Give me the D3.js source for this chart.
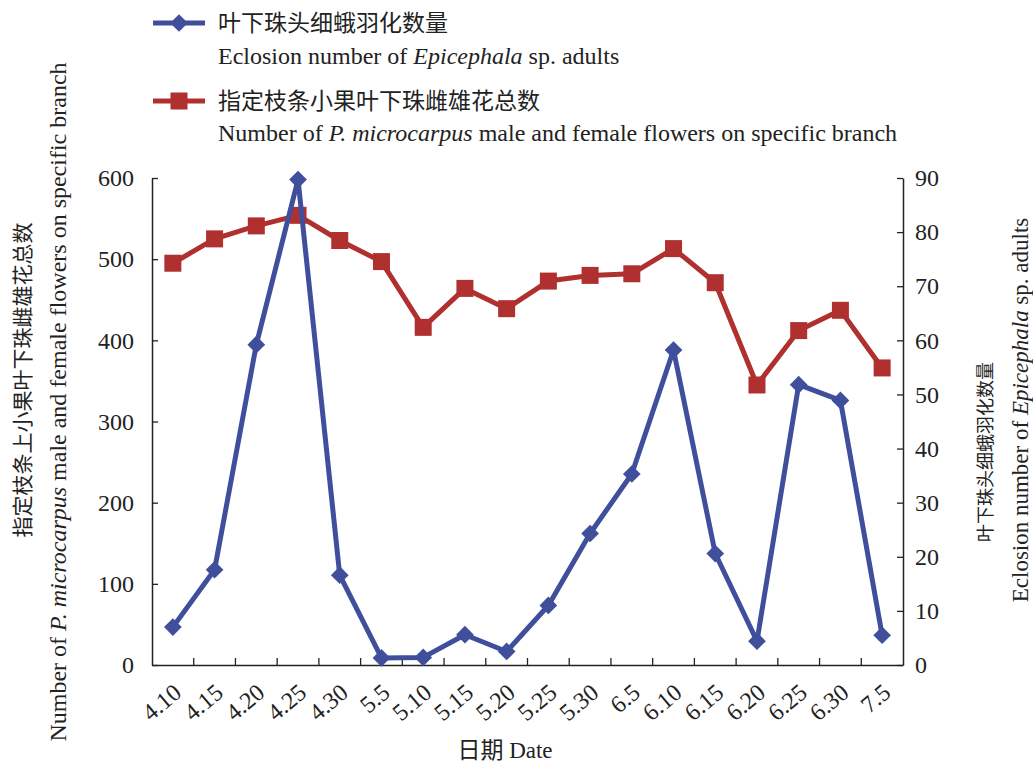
<!DOCTYPE html>
<html>
<head>
<meta charset="utf-8">
<title></title>
<script src="https://d3js.org/d3.v7.min.js"></script>
<style>
	body { margin: 0; background: #fff; }
	text { font-family: "Liberation Serif", "Noto Sans CJK SC", serif; fill: #222; }
</style>
</head>
<body>
<div id="chart"></div>
<script type="text/javascript">

// data
var dates = ["4.10", "4.15", "4.20", "4.25", "4.30", "5.5", "5.10", "5.15", "5.20", "5.25", "5.30", "6.5", "6.10", "6.15", "6.20", "6.25", "6.30", "7.5"];
var flowers = [495, 525, 541, 554, 523, 497, 416, 464, 439, 473, 480, 482, 513, 471, 345, 412, 437, 366];
var eclosion = [7, 17.6, 59.2, 89.7, 16.6, 1.3, 1.4, 5.6, 2.5, 11, 24.3, 35.3, 58.2, 20.6, 4.4, 51.8, 48.9, 5.5];
var leftTicks = [0, 100, 200, 300, 400, 500, 600];
var rightTicks = [0, 10, 20, 30, 40, 50, 60, 70, 80, 90];

var blue = "#3f4f9c", red = "#b03030";
var W = 1033, H = 767;
var pLeft = 152, pRight = 903, pTop = 178, pBottom = 665;

const svg = d3.select("#chart").append("svg").attr("width", W).attr("height", H);

var x = d3.scaleBand().domain(dates).range([pLeft, pRight]);
var yL = d3.scaleLinear().domain([0, 600]).range([pBottom, pTop]);
var yR = d3.scaleLinear().domain([0, 90]).range([pBottom, pTop]);

// axes
var axL = svg.append("g").attr("transform", "translate(" + pLeft + ",0)")
	.call(d3.axisLeft(yL).tickValues(leftTicks).tickSizeInner(-6).tickSizeOuter(0).tickPadding(18));
var axR = svg.append("g").attr("transform", "translate(" + pRight + ",0)")
	.call(d3.axisRight(yR).tickValues(rightTicks).tickSizeInner(-6).tickSizeOuter(0).tickPadding(12));
var axB = svg.append("g").attr("transform", "translate(0," + pBottom + ")")
	.call(d3.axisBottom(x).tickSize(0).tickSizeOuter(0).tickPadding(0));

[axL, axR, axB].forEach(function(a){
	a.selectAll("path").attr("stroke", "#222").attr("stroke-width", 1.5);
	a.selectAll("line").attr("stroke", "#222").attr("stroke-width", 1.3);
	a.selectAll("text").style("font-size", "24px").attr("fill", "#222");
});

axB.selectAll(".tick text")
	.attr("text-anchor", "end")
	.attr("dy", 0)
	.attr("y", 0)
	.attr("transform", "translate(10,30) rotate(-40)");

// category separator ticks on the x axis, pointing inside
svg.append("g").selectAll("line")
	.data(dates.slice(1))
	.enter().append("line")
	.attr("x1", function(d){ return x(d); })
	.attr("x2", function(d){ return x(d); })
	.attr("y1", pBottom)
	.attr("y2", pBottom - 7)
	.attr("stroke", "#222")
	.attr("stroke-width", 1.3);

function cx(i){ return x(dates[i]) + x.bandwidth() / 2; }

// red series (left axis)
svg.append("path")
	.datum(flowers)
	.attr("fill", "none")
	.attr("stroke", red)
	.attr("stroke-width", 5)
	.attr("stroke-linejoin", "round")
	.attr("d", d3.line().x(function(d, i){ return cx(i); }).y(function(d){ return yL(d); }));

svg.append("g").selectAll("rect")
	.data(flowers)
	.enter().append("rect")
	.attr("x", function(d, i){ return cx(i) - 8.5; })
	.attr("y", function(d){ return yL(d) - 8.5; })
	.attr("width", 17)
	.attr("height", 17)
	.attr("fill", red);

// blue series (right axis)
svg.append("path")
	.datum(eclosion)
	.attr("fill", "none")
	.attr("stroke", blue)
	.attr("stroke-width", 5)
	.attr("stroke-linejoin", "round")
	.attr("d", d3.line().x(function(d, i){ return cx(i); }).y(function(d){ return yR(d); }));

var diamond = d3.symbol().type(d3.symbolDiamond2).size(200);
svg.append("g").selectAll("path")
	.data(eclosion)
	.enter().append("path")
	.attr("d", diamond)
	.attr("transform", function(d, i){ return "translate(" + cx(i) + "," + yR(d) + ")"; })
	.attr("fill", blue);

// axis titles
svg.append("text")
	.attr("transform", "translate(30,380) rotate(-90)")
	.attr("text-anchor", "middle")
	.style("font-size", "21px")
	.text("指定枝条上小果叶下珠雌雄花总数");

var tl = svg.append("text")
	.attr("transform", "translate(66,402) rotate(-90)")
	.attr("text-anchor", "middle")
	.style("font-size", "24px");
tl.append("tspan").text("Number of ");
tl.append("tspan").style("font-style", "italic").text("P. microcarpus");
tl.append("tspan").text(" male and female flowers on specific branch");

svg.append("text")
	.attr("transform", "translate(992,452) rotate(-90)")
	.attr("text-anchor", "middle")
	.style("font-size", "18px")
	.text("叶下珠头细蛾羽化数量");

var tr = svg.append("text")
	.attr("transform", "translate(1028,410) rotate(-90)")
	.attr("text-anchor", "middle")
	.style("font-size", "23px");
tr.append("tspan").text("Eclosion number of ");
tr.append("tspan").style("font-style", "italic").text("Epicephala");
tr.append("tspan").text(" sp. adults");

svg.append("text")
	.attr("x", 505)
	.attr("y", 758)
	.attr("text-anchor", "middle")
	.style("font-size", "23px")
	.text("日期 Date");

// legend
var lg = svg.append("g");
lg.append("line").attr("x1", 153).attr("x2", 205).attr("y1", 23).attr("y2", 23)
	.attr("stroke", blue).attr("stroke-width", 5);
lg.append("path").attr("d", diamond).attr("transform", "translate(179,23)").attr("fill", blue);
lg.append("text").attr("x", 218).attr("y", 31).style("font-size", "23px").text("叶下珠头细蛾羽化数量");
var l2 = lg.append("text").attr("x", 218).attr("y", 64).style("font-size", "24px");
l2.append("tspan").text("Eclosion number of ");
l2.append("tspan").style("font-style", "italic").text("Epicephala");
l2.append("tspan").text(" sp. adults");

lg.append("line").attr("x1", 153).attr("x2", 205).attr("y1", 101).attr("y2", 101)
	.attr("stroke", red).attr("stroke-width", 5);
lg.append("rect").attr("x", 170.5).attr("y", 92.5).attr("width", 17).attr("height", 17).attr("fill", red);
lg.append("text").attr("x", 218).attr("y", 109).style("font-size", "23px").text("指定枝条小果叶下珠雌雄花总数");
var l4 = lg.append("text").attr("x", 218).attr("y", 141).style("font-size", "24px");
l4.append("tspan").text("Number of ");
l4.append("tspan").style("font-style", "italic").text("P. microcarpus");
l4.append("tspan").text(" male and female flowers on specific branch");

</script>
</body>
</html>
